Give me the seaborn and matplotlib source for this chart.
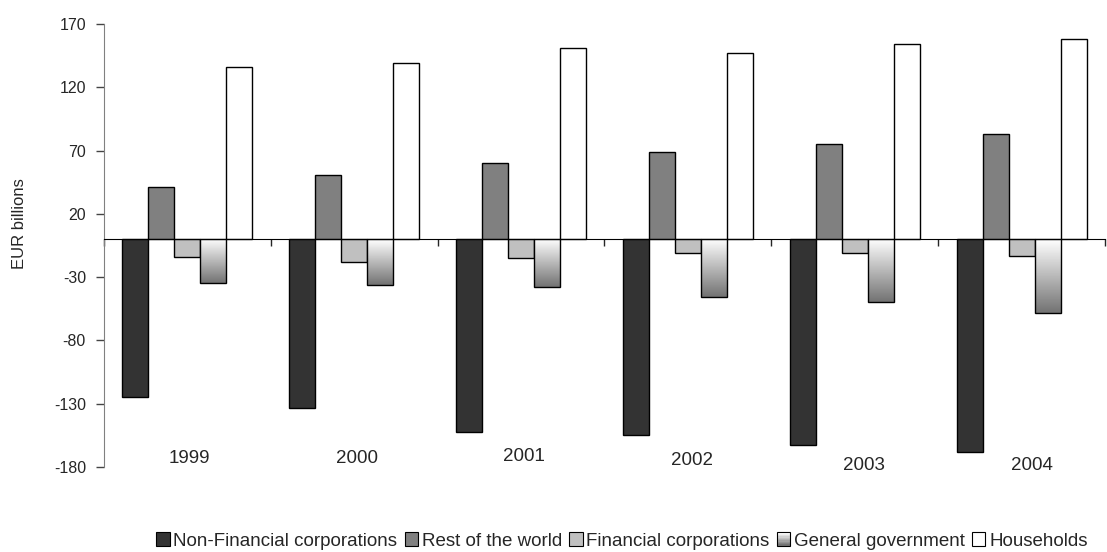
import numpy as np
import pandas as pd
import matplotlib
matplotlib.use("Agg")
import matplotlib.pyplot as plt
from matplotlib.patches import Rectangle, Patch
from matplotlib.legend_handler import HandlerBase
import seaborn as sns

years = ["1999", "2000", "2001", "2002", "2003", "2004"]
sectors = ["Non-Financial corporations", "Rest of the world", "Financial corporations",
           "General government", "Households"]
non_financial = [-125, -133, -152, -155, -163, -168]
rest_of_world = [41, 51, 60, 69, 75, 83]
financial = [-14, -18, -15, -11, -11, -13]
general_gov = [-35, -36, -38, -46, -50, -58]
households = [136, 139, 151, 147, 154, 158]

# year labels sit inside the plot, slightly staggered like the original
label_y = [-173, -173, -172, -174.5, -178.5, -178.5]
label_dx = [0.01, 0.015, 0.02, 0.027, 0.057, 0.063]

df = pd.DataFrame({
    "year": years * 5,
    "sector": np.repeat(sectors, len(years)),
    "value": non_financial + rest_of_world + financial + general_gov + households,
})

sns.set_style("white")
plt.rcParams["font.family"] = ["Liberation Sans", "DejaVu Sans"]
plt.rcParams["axes.unicode_minus"] = False

colors = ["#333333", "#808080", "#c0c0c0", "#d8d8d8", "#ffffff"]

fig = plt.figure(figsize=(11.07, 5.52), dpi=100)
ax = fig.add_axes([104 / 1107, 1 - 467 / 552, 1001 / 1107, 443 / 552])

sns.barplot(data=df, x="year", y="value", hue="sector", hue_order=sectors,
            palette=colors, width=0.78, edgecolor="black", linewidth=1,
            saturation=1, legend=False, ax=ax)

# gradient fill for general government bars
grad = np.linspace(1.0, 0.45, 100).reshape(-1, 1)
for bar in ax.containers[3]:
    x0, w = bar.get_x(), bar.get_width()
    y0, h = bar.get_y(), bar.get_height()
    top, bottom = max(y0, y0 + h), min(y0, y0 + h)
    im = ax.imshow(grad, cmap="gray", vmin=0, vmax=1, aspect="auto",
                   extent=(x0, x0 + w, bottom, top), origin="upper", zorder=1.5)
    im.set_clip_path(bar)
    bar.set_facecolor("none")
    bar.set_zorder(2)

ax.set_xlim(-0.5, 5.5)
ax.set_ylim(-180, 170)
ax.set_yticks(np.arange(-180, 171, 50))
ax.tick_params(axis="y", labelsize=11.5, length=6, width=1, pad=7, left=True,
               color="#444444", direction="out")
ax.set_ylabel("EUR billions", fontsize=12)
ax.yaxis.set_label_coords(-0.077, 0.55)

ax.spines["bottom"].set_position(("data", 0))
ax.spines["bottom"].set_color("black")
ax.spines["left"].set_color("#808080")
ax.spines["top"].set_visible(False)
ax.spines["right"].set_visible(False)
ax.set_xticks(np.arange(-0.5, 5.6, 1))
ax.set_xticklabels([])
ax.tick_params(axis="x", length=5, width=1, direction="out", bottom=True)
ax.set_xlabel("")

for i, yr in enumerate(years):
    ax.text(i + label_dx[i], label_y[i], yr, ha="center", va="center", fontsize=13.5)


class GradientHandler(HandlerBase):
    def create_artists(self, legend, orig_handle, xdescent, ydescent, width, height, fontsize, trans):
        n = 10
        arts = []
        for k in range(n):
            g = 1.0 - 0.55 * k / (n - 1)
            arts.append(Rectangle((-xdescent, -ydescent + height * (n - 1 - k) / n), width, height / n,
                                  facecolor=(g, g, g), edgecolor="none", transform=trans))
        arts.append(Rectangle((-xdescent, -ydescent), width, height, facecolor="none",
                              edgecolor="black", linewidth=0.8, transform=trans))
        return arts


handles = [Patch(facecolor=c, edgecolor="black", linewidth=0.8) for c in colors]
grad_handle = Patch(facecolor="none")
handles[3] = grad_handle
fig.legend(handles, sectors, loc="center", bbox_to_anchor=(622 / 1107, 1 - 541 / 552),
           ncol=5, frameon=False, fontsize=13.5, handlelength=0.7, handleheight=0.7,
           handletextpad=0.2, columnspacing=0.4, borderpad=0,
           handler_map={grad_handle: GradientHandler()})

fig.savefig("out.png", dpi=100)
